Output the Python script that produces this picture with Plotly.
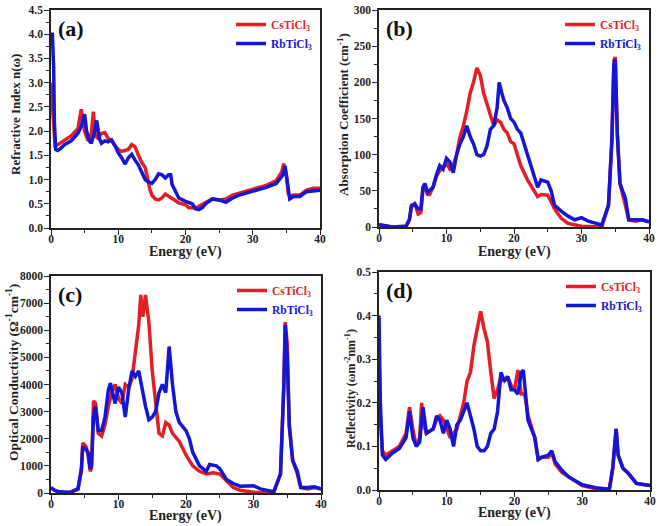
import plotly.graph_objects as go

RED = "#e31e24"
BLUE = "#1515d6"

# ---------- Panel (a) Refractive index ----------
a_cs_x = [0, 0.3, 0.6, 1, 2, 3, 4, 4.5, 5, 5.5, 6, 6.3, 6.6, 7, 7.5, 8, 8.5, 9, 9.5, 10, 10.5, 11, 11.5, 12, 12.5, 13, 13.5, 14, 14.3, 14.7, 15, 15.5, 16, 16.5, 17, 17.5, 18, 19, 20, 20.5, 21, 21.5, 22, 23, 24, 25, 26, 27, 28, 30, 32, 33.5, 34.3, 34.6, 35, 35.3, 35.6, 36, 37, 38, 39, 40]
a_cs_y = [3.0, 2.2, 1.7, 1.72, 1.8, 1.9, 2.05, 2.45, 2.0, 1.8, 1.95, 2.4, 1.9, 1.85, 1.95, 1.97, 1.85, 1.8, 1.7, 1.62, 1.58, 1.6, 1.62, 1.72, 1.68, 1.5, 1.35, 1.25, 1.05, 0.8, 0.68, 0.6, 0.58, 0.62, 0.7, 0.65, 0.6, 0.52, 0.48, 0.42, 0.42, 0.4, 0.45, 0.52, 0.6, 0.58, 0.6, 0.68, 0.72, 0.8, 0.88, 0.98, 1.15, 1.33, 1.1, 0.7, 0.65, 0.68, 0.68, 0.78, 0.82, 0.82]
a_rb_x = [0, 0.2, 0.4, 0.5, 0.7, 1, 1.5, 2, 3, 4, 4.5, 5, 5.3, 5.7, 6, 6.5, 6.8, 7.2, 7.5, 8, 8.5, 9, 9.5, 10, 10.5, 11, 11.5, 12, 12.5, 13, 13.5, 14, 14.5, 15, 15.5, 16, 16.5, 17, 17.5, 17.8, 18, 18.5, 19, 20, 21, 21.5, 22, 22.5, 23, 24, 25, 26, 27, 28, 30, 32, 33.5, 34.5, 34.8, 35.2, 35.5, 36, 37, 38, 40]
a_rb_y = [4.0, 4.0, 3.3, 2.2, 1.62, 1.6, 1.65, 1.72, 1.8, 1.95, 2.1, 2.35, 2.0, 1.8, 1.75, 2.0, 2.22, 1.85, 1.75, 1.8, 1.78, 1.82, 1.7, 1.55, 1.45, 1.32, 1.45, 1.52, 1.4, 1.3, 1.15, 1.0, 0.95, 0.92, 1.0, 1.12, 1.1, 1.03, 1.1, 1.1, 0.9, 0.75, 0.62, 0.55, 0.5, 0.4, 0.38, 0.42, 0.5, 0.6, 0.58, 0.53, 0.62, 0.68, 0.76, 0.84, 0.92, 1.1, 1.28, 0.95, 0.6, 0.65, 0.65, 0.75, 0.78]

# ---------- Panel (b) Absorption coefficient ----------
b_cs_x = [0, 1, 2, 4, 4.5, 4.8, 5.3, 5.8, 6.2, 6.5, 6.8, 7.2, 7.5, 8, 8.5, 9, 9.5, 10, 10.5, 11, 11.5, 12, 12.5, 13, 13.5, 14, 14.5, 15, 15.5, 16, 16.5, 17, 17.5, 18, 18.5, 19, 19.5, 20, 20.5, 21, 22, 23, 23.5, 24, 25, 25.5, 26, 27, 28, 30, 32, 33, 34, 34.5, 34.8, 35, 35.3, 35.7, 36.5, 37, 38, 39, 40]
b_cs_y = [3, 2, 0, 1, 10, 30, 32, 18, 20, 50, 55, 45, 45, 55, 70, 78, 82, 88, 80, 85, 100, 125, 140, 160, 185, 200, 220, 210, 185, 170, 155, 140, 148, 145, 135, 130, 118, 115, 100, 85, 65, 50, 42, 45, 44, 35, 25, 12, 5, 1, 0, 0, 30, 120, 230, 235, 130, 60, 30, 10, 8, 10, 7]
b_rb_x = [0, 1, 2, 4, 4.5, 4.8, 5.3, 5.8, 6.2, 6.5, 6.8, 7.2, 8, 8.5, 9, 9.5, 10, 10.5, 11, 11.5, 12, 12.5, 13, 13.5, 14, 14.5, 15, 15.5, 16, 16.5, 17, 17.5, 17.8, 18.2, 18.5, 19, 19.5, 20, 20.5, 21, 22, 23, 23.5, 24, 25, 25.5, 26, 27, 28, 29, 30, 31, 32, 33, 34, 34.5, 34.8, 35, 35.3, 35.7, 36.5, 37, 38, 39, 40]
b_rb_y = [3, 2, 0, 1, 10, 28, 32, 25, 25, 55, 60, 48, 55, 72, 85, 80, 95, 90, 75, 100, 115, 125, 140, 125, 115, 100, 98, 100, 112, 135, 140, 165, 200, 185, 175, 165, 150, 145, 135, 130, 100, 70, 55, 65, 62, 50, 30, 22, 15, 10, 13, 8, 5, 3, 30, 120, 225, 232, 130, 60, 40, 10, 10, 10, 7]

# ---------- Panel (c) Optical conductivity ----------
c_cs_x = [0, 0.5, 1, 2, 3, 4, 4.5, 4.7, 5.2, 5.5, 5.8, 6, 6.3, 6.6, 7, 7.5, 8, 8.5, 9, 9.5, 10, 10.5, 11, 11.5, 12, 12.5, 13, 13.3, 13.6, 14, 14.5, 15, 15.5, 16, 16.5, 17, 17.5, 18, 19, 20, 21, 22, 23, 24, 25, 26, 27, 28, 30, 32, 33, 34, 34.5, 34.7, 35, 35.3, 35.8, 36.5, 37, 38, 39, 40]
c_cs_y = [200, 100, 60, 30, 40, 150, 800, 1850, 1700, 1400, 800, 900, 3400, 3300, 2200, 2100, 2500, 3200, 3700, 4000, 3500, 3300, 4000, 3900, 4200, 5200, 6200, 7300, 6500, 7300, 6300, 4500, 3200, 2200, 2100, 2600, 2500, 2200, 1900, 1400, 1000, 800, 700, 750, 700, 450, 200, 100, 30, 0, 20, 700, 4000, 6300, 5500, 2500, 1200, 700, 200, 150, 200, 150]
c_rb_x = [0, 0.5, 1, 2, 3, 4, 4.5, 4.7, 5.2, 5.5, 5.8, 6, 6.3, 6.6, 7, 7.5, 8, 8.5, 8.8, 9.5, 10, 10.5, 11, 11.5, 12, 12.5, 13, 13.5, 14, 14.5, 15, 15.5, 16, 16.5, 17, 17.5, 18, 18.5, 19, 20, 20.5, 21, 22, 23, 23.5, 24.5, 25, 26, 27, 28, 30, 31, 32, 33, 34, 34.5, 34.7, 35, 35.3, 35.8, 36.5, 37, 38, 39, 40]
c_rb_y = [200, 100, 60, 30, 40, 150, 900, 1700, 1600, 1500, 900, 1000, 2800, 3200, 2300, 2300, 2800, 3800, 4050, 3300, 3900, 3700, 2800, 3800, 4500, 4300, 4500, 3800, 3200, 2700, 2800, 3000, 3700, 4000, 3700, 5400, 4000, 3000, 2600, 2300, 2000, 1500, 1000, 800, 1050, 1000, 900, 500, 350, 250, 270, 150, 100, 50, 700, 4000, 6200, 5000, 2500, 1200, 800, 200, 200, 230, 150]

# ---------- Panel (d) Reflectivity ----------
d_cs_x = [0, 0.2, 0.5, 1, 2, 3, 4, 4.5, 5, 5.5, 6, 6.3, 6.6, 7, 8, 8.5, 9, 9.5, 10, 10.5, 11, 11.5, 12, 12.5, 13, 13.5, 14, 14.5, 15, 15.5, 16, 16.5, 17, 17.5, 18, 18.5, 19, 19.5, 20, 20.5, 21, 21.5, 22, 23, 23.5, 24, 25, 25.5, 26, 27, 28, 30, 32, 34, 34.5, 35, 35.3, 36, 37, 38, 40]
d_cs_y = [0.3, 0.16, 0.09, 0.08, 0.09, 0.1, 0.13, 0.19, 0.14, 0.1, 0.12, 0.2, 0.15, 0.13, 0.14, 0.16, 0.17, 0.16, 0.14, 0.12, 0.13, 0.14, 0.17, 0.2, 0.25, 0.27, 0.33, 0.37, 0.41, 0.37, 0.34, 0.27, 0.21, 0.23, 0.26, 0.25, 0.26, 0.24, 0.23, 0.275, 0.22, 0.22, 0.17, 0.12, 0.07, 0.075, 0.075, 0.085, 0.06, 0.04, 0.03, 0.01, 0.003, 0.002, 0.05, 0.14, 0.08, 0.05, 0.035, 0.015, 0.01]
d_rb_x = [0, 0.2, 0.5, 1, 2, 3, 4, 4.5, 5, 5.5, 6, 6.5, 7, 8, 8.5, 9, 9.5, 10, 10.5, 11, 11.5, 12, 12.5, 13, 13.5, 14, 14.5, 15, 15.5, 16, 16.5, 17, 17.5, 18, 18.5, 19, 19.5, 20, 20.5, 21, 21.3, 21.8, 22, 23, 23.5, 24, 25, 25.5, 26, 27, 28, 30, 32, 34, 34.5, 35, 35.3, 36, 36.7, 38, 40]
d_rb_y = [0.4, 0.2, 0.08, 0.07, 0.085, 0.095, 0.12, 0.18, 0.12, 0.1, 0.11, 0.19, 0.13, 0.14, 0.17, 0.16, 0.13, 0.16, 0.14, 0.1, 0.15, 0.16, 0.18, 0.2, 0.17, 0.14, 0.1, 0.09, 0.09, 0.1, 0.13, 0.14, 0.18, 0.27, 0.25, 0.26, 0.23, 0.23, 0.22, 0.27, 0.275, 0.2, 0.16, 0.12, 0.07, 0.075, 0.08, 0.09, 0.065, 0.045, 0.03, 0.012, 0.005, 0.002, 0.05, 0.14, 0.08, 0.05, 0.04, 0.015, 0.01]

panel_labels = ["(a)", "(b)", "(c)", "(d)"]
y_titles = ["Refractive Index n(ω)", "Absorption Coefficient (cm<sup>-1</sup>)",
            "Optical Conductivity (Ω<sup>-1</sup>cm<sup>-1</sup>)", "Reflectivity (ωm<sup>-2</sup>nm<sup>-1</sup>)"]
x_title = "Energy (eV)"
series_names = ["CsTiCl<sub>3</sub>", "RbTiCl<sub>3</sub>"]

panels = [
    (a_cs_x, a_cs_y, a_rb_x, a_rb_y, [0, 4.5], 0.5, 0.25, ".1f"),
    (b_cs_x, b_cs_y, b_rb_x, b_rb_y, [0, 300], 50, 25, "d"),
    (c_cs_x, c_cs_y, c_rb_x, c_rb_y, [0, 8000], 1000, 500, "d"),
    (d_cs_x, d_cs_y, d_rb_x, d_rb_y, [0, 0.5], 0.1, 0.05, ".1f"),
]

W, H = 661, 526
# plot areas in pixels: (left, right, top, bottom)
boxes = [(51, 320, 10, 228), (379, 649, 10, 227), (51, 321, 276, 493), (379, 650, 272, 490)]
# y-title placement (center x, center y, font size) and x-title center y
ytitle_pos = [(15, 115, 13), (343, 115, 13), (12, 373, 13.5), (350, 388, 12)]
xtitle_y = [252, 252, 516, 513]

FONT = "Liberation Serif"
fig = go.Figure()
layout = dict(width=W, height=H, margin=dict(l=0, r=0, t=0, b=0, autoexpand=False),
              paper_bgcolor="white", plot_bgcolor="white", showlegend=True,
              font=dict(family=FONT, color="#222", size=11))
annotations = []
for i, (csx, csy, rbx, rby, yr, dt, mdt, fmt) in enumerate(panels):
    k = "" if i == 0 else str(i + 1)
    leg = "legend" if i == 0 else "legend" + str(i + 1)
    l, r, t, b = boxes[i]
    xd = [l / W, r / W]
    yd = [1 - b / H, 1 - t / H]
    fig.add_trace(go.Scatter(x=csx, y=csy, mode="lines", name=series_names[0],
                             line=dict(color=RED, width=3.5), xaxis="x" + k, yaxis="y" + k,
                             legend=leg))
    fig.add_trace(go.Scatter(x=rbx, y=rby, mode="lines", name=series_names[1],
                             line=dict(color=BLUE, width=3.5), xaxis="x" + k, yaxis="y" + k,
                             legend=leg))
    ax_common = dict(showline=True, linecolor="#222", linewidth=1.5, mirror=True,
                     ticks="outside", ticklen=5, tickwidth=1.2, tickcolor="#222",
                     showgrid=False, zeroline=False, automargin=False,
                     tickfont=dict(family=FONT, size=11.5, color="#222", weight="bold"))
    layout["xaxis" + k] = dict(ax_common, domain=xd, range=[0, 40], dtick=10, tick0=0,
                               anchor="y" + k, ticklabelstandoff=-6,
                               minor=dict(dtick=5, ticks="outside", ticklen=3, tickcolor="#222"))
    layout["yaxis" + k] = dict(ax_common, domain=yd, range=yr, dtick=dt, tick0=0,
                               anchor="x" + k, tickformat=fmt, ticklabelstandoff=-1,
                               minor=dict(dtick=mdt, ticks="outside", ticklen=3, tickcolor="#222"))
    layout[leg] = dict(x=xd[1] - 3 / W, y=yd[1] - 0 / H, xanchor="right", yanchor="top",
                       bgcolor="rgba(0,0,0,0)", borderwidth=0, itemwidth=30, tracegroupgap=0,
                       font=dict(family=FONT, size=11.5, color="#222"))
    yx, yy, ys = ytitle_pos[i]
    annotations.append(dict(text="<b>" + y_titles[i] + "</b>", xref="paper", yref="paper",
                            x=yx / W, y=1 - yy / H, xanchor="center", yanchor="middle",
                            textangle=-90, showarrow=False,
                            font=dict(family=FONT, size=ys, color="#222")))
    annotations.append(dict(text="<b>" + x_title + "</b>", xref="paper", yref="paper",
                            x=(l + r) / 2 / W, y=1 - xtitle_y[i] / H, xanchor="center",
                            yanchor="middle", showarrow=False,
                            font=dict(family=FONT, size=14, color="#222")))
    annotations.append(dict(text="<b>" + panel_labels[i] + "</b>", xref="paper", yref="paper",
                            x=(l + 5) / W, y=1 - (t + 4) / H, xanchor="left", yanchor="top",
                            showarrow=False, font=dict(family=FONT, size=22, color="#111")))

# color legend text by trace
for tr in fig.data:
    c = RED if tr.line.color == RED else BLUE
    tr.name = "<b><span style='color:%s'>%s</span></b>" % (c, tr.name)

layout["annotations"] = annotations
fig.update_layout(**layout)
fig.write_html("out.html", config={"displayModeBar": False},
               post_script="document.body.style.margin='0';document.body.style.overflow='hidden';")
